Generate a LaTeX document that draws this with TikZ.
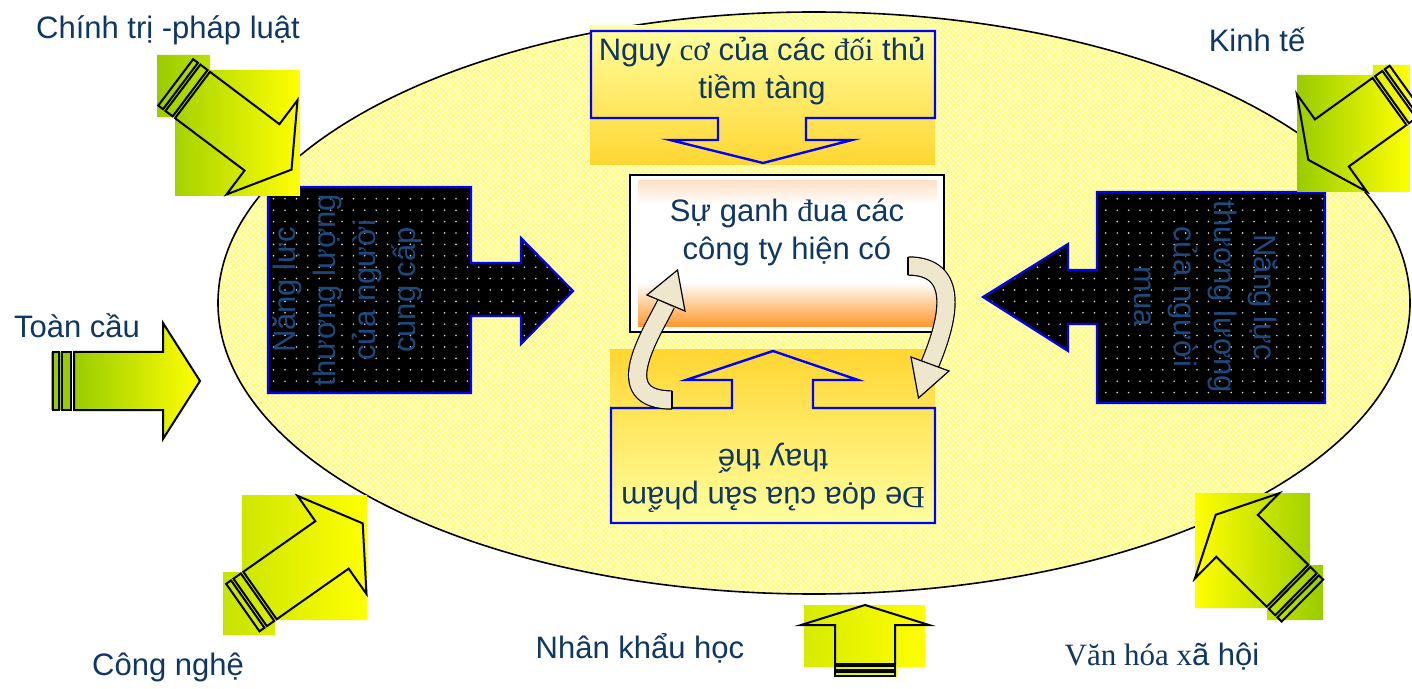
\documentclass[tikz,border=0pt]{standalone}
\usepackage{fontspec}
\setmainfont{Liberation Sans}
\newfontfamily\tnr{Liberation Serif}
\usetikzlibrary{patterns.meta}
\definecolor{txt}{RGB}{15,55,100}
\definecolor{txtb}{RGB}{28,74,125}
\definecolor{ellf}{RGB}{255,255,195}
\definecolor{ellp}{RGB}{255,252,110}
\definecolor{gg}{RGB}{153,204,0}
\definecolor{yy}{RGB}{255,255,0}
\definecolor{paley}{RGB}{255,255,160}
\definecolor{gold}{RGB}{255,214,50}
\definecolor{blu}{RGB}{0,0,255}
\definecolor{org}{RGB}{255,150,40}
\definecolor{orgl}{RGB}{255,225,200}
\definecolor{curvf}{RGB}{238,230,205}
\tikzdeclarepattern{
  name=wdots,
  type=uncolored,
  bottom left={(-2.85pt,-2.85pt)},
  top right={(2.85pt,2.85pt)},
  tile size={(5.7pt,5.7pt)},
  code={\fill (0pt,0pt) circle (0.45pt);}
}
\tikzdeclarepattern{
  name=xhatch,
  type=uncolored,
  bottom left={(0pt,0pt)},
  top right={(2.4pt,2.4pt)},
  tile size={(2.4pt,2.4pt)},
  code={\draw[line width=0.3pt] (0pt,0pt) -- (2.4pt,2.4pt) (0pt,2.4pt) -- (2.4pt,0pt);}
}
\tikzset{
 lbl/.style={text=txt, font=\fontsize{15.5}{19}\selectfont, inner sep=0pt},
 boxtxt/.style={lbl, align=center},
 vtxt/.style={text=txtb, font=\fontsize{15.5}{20}\selectfont, align=center, inner sep=0pt},
 garrow/.style={draw=black, line width=1pt, line join=miter},
 blkarrow/.style={preaction={fill=black}, pattern=wdots, pattern color=white!85!black, draw=blu, line width=1.1pt},
 bluearrow/.style={draw=blu, line width=1.2pt, line join=miter},
 curvband/.style={draw=black, line width=0.6pt, double=curvf, double distance=8.5pt},
 curvhead/.style={fill=curvf, draw=black, line width=0.6pt, line join=miter},
}
% Lb, w, hl, hw
\newcommand\grarrow[4]{%
  \draw[garrow] (0,-#2) -- (#1,-#2) -- (#1,-#4) -- ({#1+#3},0) -- (#1,#4) -- (#1,#2) -- (0,#2) -- cycle;
  \draw[garrow] (-3,-#2) rectangle (-12,#2);
  \draw[garrow] (-15,-#2) rectangle (-21,#2);
}
\begin{document}
\begin{tikzpicture}[x=0.5pt,y=-0.5pt]
\useasboundingbox[fill=white] (0,0) rectangle (1412,689);
% ellipse
\path[fill=ellf] (814,303) ellipse [x radius=298pt, y radius=145.5pt];
\path[pattern=xhatch, pattern color=ellp] (814,303) ellipse [x radius=298pt, y radius=145.5pt];
\draw[line width=0.8pt] (814,303) ellipse [x radius=298pt, y radius=145.5pt];

% black arrows
\path[blkarrow] (268,187) -- (471,187) -- (471,263) -- (521,263) -- (521,238) -- (573,291) -- (521,344) -- (521,316) -- (471,316) -- (471,393) -- (268,393) -- cycle;
\node[vtxt, rotate=90] (sup) at (347,290) {Năng lực\\thương lượng\\của người\\cung cấp};
\path[blkarrow] (1325,192) -- (1097,192) -- (1097,270) -- (1068,270) -- (1068,244) -- (983,297) -- (1068,351) -- (1068,324) -- (1097,324) -- (1097,403) -- (1325,403) -- cycle;
\node[vtxt, rotate=-90] (buy) at (1206,297) {Năng lực\\thương lượng\\của người\\mua};

% top box
\shade[top color=paley, bottom color=gold] (590,26) rectangle (935,165);
\draw[bluearrow] (591,31) -- (935,31) -- (935,118) -- (806,118) -- (806,140) -- (852,140) -- (763,163) -- (670,140) -- (718,140) -- (718,118) -- (591,118) -- cycle;
\node[boxtxt] (new) at (762,71) {Nguy {\tnr cơ} của các {\tnr đối} thủ\\tiềm tàng};

% center box
\fill[white] (630,175) rectangle (944,332);
\shade[top color=orgl, bottom color=white] (638,181) rectangle (937,205);
\shade[top color=white, bottom color=org] (638,282) rectangle (937,327);
\draw[black, line width=1pt] (630,175) rectangle (944,332);
\node[boxtxt] (riv) at (787,232) {Sự ganh {\tnr đ}ua các\\công ty hiện có};

% bottom box
\shade[top color=gold, bottom color=paley] (610,350) rectangle (935,525);
\draw[bluearrow] (611,408) -- (732,408) -- (732,380) -- (686,380) -- (773,351) -- (858,380) -- (813,380) -- (813,408) -- (935,408) -- (935,523) -- (611,523) -- cycle;
\node[boxtxt, rotate=180] (sub) at (773,478) {{\tnr Đ}e dọa của sản phẩm\\thay thế};

% curved arrows
\draw[curvband] (672,400) .. controls (608,400) and (650,336) .. (666,304);
\draw[black, line width=0.6pt] (672,391) -- (672,409);
\draw[curvhead] (677.5,270) -- (685,311) -- (647,295) -- cycle;
\draw[curvband] (908,266) .. controls (966,266) and (944,330) .. (930,364);
\draw[black, line width=0.6pt] (908,257) -- (908,275);
\draw[curvhead] (918.5,398) -- (949,371) -- (911,357) -- cycle;

% green arrow 1 (top-left)
\begin{scope}
\clip (175,70) rectangle (300,196) (157,55) rectangle (210,117);
\shade[left color=gg, right color=yy] (157,55) rectangle (300,196);
\end{scope}
\begin{scope}[shift={(192.5,95)}, rotate=-37]
\grarrow{87}{29}{37}{59}
\end{scope}
% green arrow 2 (top-right)
\begin{scope}
\clip (1297,75) rectangle (1410,192) (1373,65) rectangle (1410,123);
\shade[left color=gg, right color=yy] (1297,65) rectangle (1410,192);
\end{scope}
\begin{scope}[shift={(1389.5,101.5)}, rotate=215.7]
\grarrow{71}{29}{29}{60}
\end{scope}
% green arrow 3 (left)
\shade[left color=gg, right color=yy] (74,352) -- (163,352) -- (163,323) -- (200,381) -- (163,439) -- (163,410) -- (74,410) -- cycle;
\fill[gg] (51,352) rectangle (71,410);
\begin{scope}[shift={(74,381)}]
\grarrow{89}{29}{37}{58}
\end{scope}
% green arrow 4 (bottom-left)
\begin{scope}
\clip (242,495) rectangle (367,620) (223,572) rectangle (275,635);
\shade[left color=gg!55!yy, right color=yy] (223,495) rectangle (367,635);
\end{scope}
\begin{scope}[shift={(260,595.5)}, rotate=35.1]
\grarrow{88}{29}{37.5}{60}
\end{scope}
% green arrow 5 (bottom centre)
\begin{scope}
\clip (804,605) rectangle (925,667) (835,663) rectangle (897,677);
\shade[left color=gg!40!yy, middle color=gg, right color=yy] (804,605) rectangle (925,677);
\end{scope}
\begin{scope}[shift={(865,664)}, rotate=90]
\draw[garrow] (0,-30) -- (39,-30) -- (39,-64) -- (59,0) -- (39,64) -- (39,30) -- (0,30) -- cycle;
\draw[garrow] (-2,-30) rectangle (-6,30);
\draw[garrow] (-8,-30) rectangle (-12,30);
\end{scope}
% green arrow 6 (bottom-right)
\begin{scope}
\clip (1195,493) rectangle (1310,608) (1267,565) rectangle (1323,620);
\shade[left color=yy, right color=gg] (1195,493) rectangle (1323,620);
\end{scope}
\begin{scope}[shift={(1287.5,585.8)}, rotate=135.3]
\grarrow{71}{29.5}{30}{60}
\end{scope}

% labels
\node[lbl] (l1) at (168,30) {Chính trị -pháp luật};
\node[lbl] (l2) at (1257,40) {Kinh tế};
\node[lbl] (l3) at (77,326) {Toàn cầu};
\node[lbl] (l4) at (168,667) {Công nghệ};
\node[lbl] (l5) at (640,648) {Nhân khẩu học};
\node[lbl] (l6) at (1162,657) {{\tnr Văn hóa x}ã hội};
\end{tikzpicture}
\end{document}
